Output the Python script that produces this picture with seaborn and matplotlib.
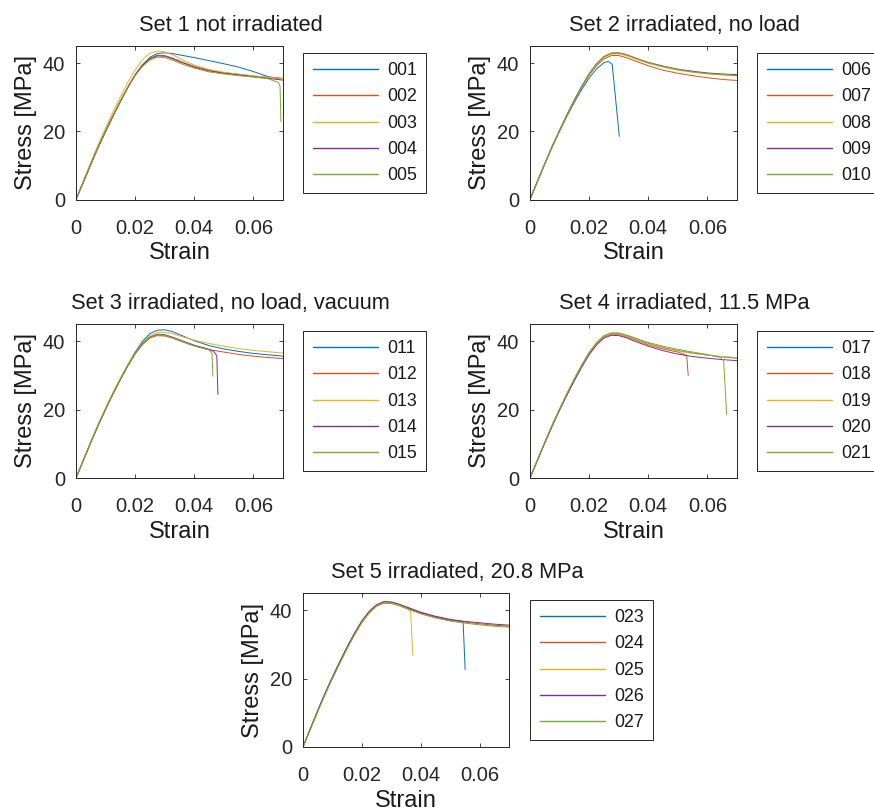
import matplotlib
matplotlib.use("Agg")
import matplotlib.pyplot as plt
from matplotlib.lines import Line2D
import pandas as pd
import seaborn as sns

# ---------------- data ----------------
strain_grid = [0, .0025, .005, .0075, .01, .0125, .015, .0175, .02, .0225, .025, .0275,
               .03, .0325, .035, .0375, .04, .045, .05, .055, .06, .065, .07]

titles = ["Set 1 not irradiated", "Set 2 irradiated, no load",
          "Set 3 irradiated, no load, vacuum", "Set 4 irradiated, 11.5 MPa",
          "Set 5 irradiated, 20.8 MPa"]
specimens = [["001", "002", "003", "004", "005"],
             ["006", "007", "008", "009", "010"],
             ["011", "012", "013", "014", "015"],
             ["017", "018", "019", "020", "021"],
             ["023", "024", "025", "026", "027"]]

# stress [MPa] on strain_grid (truncated where the specimen broke)
stress = {
    "001": [0, 5.0, 10.2, 15.2, 19.8, 24.3, 28.6, 32.7, 36.5, 39.5, 41.7, 42.8, 43.0, 42.8, 42.4, 42.0, 41.6, 40.7, 39.8, 38.8, 37.5, 36.0, 35.4],
    "002": [0, 5.2, 10.4, 15.4, 20.1, 24.6, 28.9, 32.9, 36.6, 39.5, 41.4, 42.3, 42.2, 41.5, 40.6, 39.8, 39.0, 37.9, 37.2, 36.7, 36.2, 35.8, 35.5],
    "003": [0, 5.5, 10.9, 16.1, 21.0, 25.7, 30.1, 34.3, 38.0, 41.0, 42.9, 43.5, 43.3, 42.5, 41.4, 40.3, 39.4, 38.1, 37.3, 36.7, 36.2, 35.8, 35.5],
    "004": [0, 5.2, 10.4, 15.4, 20.1, 24.6, 28.9, 32.9, 36.5, 39.3, 41.2, 42.1, 42.0, 41.3, 40.4, 39.6, 38.8, 37.7, 37.0, 36.5, 36.0, 35.5, 35.0],
    "005": [0, 5.2, 10.4, 15.4, 20.1, 24.6, 28.9, 32.8, 36.3, 39.0, 40.9, 41.7, 41.6, 40.9, 40.0, 39.2, 38.5, 37.4, 36.8, 36.3, 35.9, 35.4],
    "006": [0, 5.2, 10.4, 15.4, 20.0, 24.4, 28.5, 32.3, 35.6, 38.3, 40.1],
    "007": [0, 5.3, 10.5, 15.5, 20.2, 24.7, 29.0, 32.9, 36.4, 39.2, 41.2, 42.2, 42.2, 41.6, 40.8, 40.0, 39.2, 37.9, 37.0, 36.3, 35.7, 35.2, 34.9],
    "008": [0, 5.3, 10.5, 15.5, 20.2, 24.7, 29.0, 33.0, 36.6, 39.5, 41.6, 42.6, 42.7, 42.2, 41.4, 40.6, 39.9, 38.8, 37.9, 37.3, 36.8, 36.5, 36.2],
    "009": [0, 5.3, 10.5, 15.6, 20.3, 24.9, 29.2, 33.2, 36.9, 39.8, 41.9, 42.9, 43.0, 42.5, 41.7, 40.9, 40.2, 39.1, 38.2, 37.6, 37.1, 36.8, 36.6],
    "010": [0, 5.3, 10.5, 15.6, 20.3, 24.9, 29.2, 33.2, 36.9, 39.8, 41.9, 42.9, 43.0, 42.5, 41.7, 40.9, 40.1, 39.0, 38.1, 37.4, 36.9, 36.6, 36.3],
    "011": [0, 5.2, 10.4, 15.4, 20.1, 24.6, 28.9, 33.0, 36.8, 40.0, 42.2, 43.2, 43.3, 42.8, 41.9, 41.0, 40.1, 38.7, 37.7, 37.0, 36.4, 36.0, 35.6],
    "012": [0, 5.2, 10.4, 15.4, 20.1, 24.6, 28.8, 32.7, 36.2, 39.0, 40.9, 41.6, 41.5, 40.9, 40.1, 39.3, 38.6, 37.5, 36.8, 36.1, 35.6, 35.2, 34.9],
    "013": [0, 5.4, 10.7, 15.8, 20.5, 25.0, 29.2, 33.1, 36.6, 39.5, 41.6, 42.5, 42.6, 42.2, 41.5, 40.9, 40.3, 39.3, 38.5, 37.8, 37.3, 36.9, 36.5],
    "014": [0, 5.2, 10.4, 15.4, 20.1, 24.6, 28.8, 32.8, 36.4, 39.3, 41.2, 42.0, 41.9, 41.2, 40.4, 39.6, 38.8, 37.6],
    "015": [0, 5.2, 10.4, 15.4, 20.1, 24.6, 28.8, 32.8, 36.4, 39.3, 41.1, 41.8, 41.7, 41.0, 40.2, 39.4, 38.6],
    "017": [0, 5.2, 10.4, 15.4, 20.1, 24.6, 28.9, 32.9, 36.5, 39.4, 41.4, 42.3, 42.2, 41.6, 40.8, 40.0, 39.3, 38.1, 37.2, 36.5, 35.9, 35.4, 35.0],
    "018": [0, 5.2, 10.4, 15.4, 20.1, 24.6, 28.9, 32.9, 36.5, 39.3, 41.2, 42.0, 41.9, 41.3, 40.5, 39.7, 38.9, 37.7, 36.8],
    "019": [0, 5.2, 10.4, 15.4, 20.1, 24.6, 28.9, 32.9, 36.5, 39.4, 41.4, 42.2, 42.1, 41.5, 40.7, 39.9, 39.2, 38.0, 37.1, 36.4, 35.9, 35.5, 35.2],
    "020": [0, 5.1, 10.2, 15.1, 19.8, 24.2, 28.4, 32.4, 36.0, 38.9, 40.9, 41.7, 41.6, 41.0, 40.1, 39.3, 38.5, 37.2, 36.2, 35.5, 35.0, 34.6, 34.3],
    "021": [0, 5.2, 10.4, 15.4, 20.1, 24.7, 29.0, 33.0, 36.7, 39.6, 41.6, 42.4, 42.4, 41.8, 41.1, 40.3, 39.6, 38.5, 37.6, 36.8, 36.1],
    "023": [0, 5.3, 10.5, 15.5, 20.2, 24.7, 29.0, 33.0, 36.6, 39.4, 41.4, 42.3, 42.2, 41.6, 40.8, 40.0, 39.2, 38.0, 37.1],
    "024": [0, 5.3, 10.5, 15.5, 20.2, 24.7, 29.0, 33.0, 36.6, 39.4, 41.4, 42.3, 42.2, 41.6, 40.8, 40.0, 39.2, 38.0, 37.1, 36.5, 36.0, 35.6, 35.3],
    "025": [0, 5.3, 10.5, 15.5, 20.2, 24.7, 29.0, 33.0, 36.6, 39.4, 41.4, 42.2, 42.1, 41.5, 40.6],
    "026": [0, 5.4, 10.7, 15.8, 20.5, 25.0, 29.3, 33.3, 36.9, 39.7, 41.6, 42.5, 42.4, 41.8, 41.0, 40.2, 39.4, 38.2, 37.3, 36.7, 36.3, 35.9, 35.6],
    "027": [0, 5.2, 10.3, 15.3, 20.0, 24.4, 28.7, 32.7, 36.3, 39.1, 41.1, 42.0, 41.9, 41.3, 40.5, 39.7, 38.9, 37.7, 36.8, 36.2, 35.7, 35.3, 35.0],
}
# final points up to fracture (strain, stress)
tail_strain = {"005": [0.0685, 0.069, 0.0693], "006": [0.0265, 0.0278, 0.0302],
               "014": [0.0465, 0.0476, 0.048], "015": [0.045, 0.046, 0.0463],
               "018": [0.053, 0.0535], "021": [0.0645, 0.0655, 0.0665],
               "023": [0.0544, 0.0551], "025": [0.0366, 0.0373]}
tail_stress = {"005": [34.3, 33.2, 22.8], "006": [40.5, 39.6, 18.5],
               "014": [37.0, 35.8, 24.4], "015": [37.4, 36.4, 29.7],
               "018": [35.8, 30.0], "021": [35.2, 34.2, 18.5],
               "023": [36.6, 22.6], "025": [39.6, 26.7]}

xticks = [0, 0.02, 0.04, 0.06]
xtick_labels = ["0", "0.02", "0.04", "0.06"]
yticks = [0, 20, 40]
ytick_labels = ["0", "20", "40"]

colors = ["#0072BD", "#D95319", "#EDB120", "#7E2F8E", "#77AC30"]

# ---------------- style ----------------
sns.set_style("ticks")
dark = "#262626"
plt.rcParams.update({
    "font.family": ["Liberation Sans", "DejaVu Sans"],
    "xtick.direction": "in", "ytick.direction": "in",
    "xtick.top": True, "ytick.right": True,
    "xtick.major.size": 3, "ytick.major.size": 3,
    "xtick.major.width": 0.6, "ytick.major.width": 0.6,
    "xtick.color": dark, "ytick.color": dark,
    "axes.edgecolor": dark, "axes.linewidth": 0.7,
    "text.color": "#1a1a1a", "axes.labelcolor": "#1a1a1a",
})

W, H = 874, 810
fig = plt.figure(figsize=(W / 100, H / 100), dpi=100)

# pixel boxes: (left, top, right, bottom) of axes, and legend top-left
axes_px = [(76, 46, 283, 199.5), (530, 46, 737, 199.5),
           (76, 324, 283, 478), (530, 324, 737, 478),
           (303, 593, 509, 747)]
legend_px = [(303.3, 53), (757.3, 53), (303.3, 331), (757.3, 331), (530.3, 600)]

for k in range(5):
    l, t, r, b = axes_px[k]
    ax = fig.add_axes([l / W, 1 - b / H, (r - l) / W, (b - t) / H])
    rows = []
    for name in specimens[k]:
        xs = strain_grid[:len(stress[name])] + tail_strain.get(name, [])
        ys = stress[name] + tail_stress.get(name, [])
        rows += [(name, x, y) for x, y in zip(xs, ys)]
    df = pd.DataFrame(rows, columns=["specimen", "strain", "stress"])
    sns.lineplot(data=df, x="strain", y="stress", hue="specimen",
                 hue_order=specimens[k], palette=colors, sort=False,
                 estimator=None, linewidth=0.7, legend=False, ax=ax)
    ax.set_xlim(0, 0.07)
    ax.set_ylim(0, 45)
    ax.set_xticks(xticks)
    ax.set_xticklabels(xtick_labels)
    ax.set_yticks(yticks)
    ax.set_yticklabels(ytick_labels)
    ax.tick_params(labelsize=14.5)
    ax.tick_params(axis="x", pad=14)
    ax.tick_params(axis="y", pad=8)
    ax.set_xlabel("Strain", fontsize=17, labelpad=3)
    ax.set_ylabel("Stress [MPa]", fontsize=17, labelpad=4)
    ax.set_title(titles[k], fontsize=15.7, pad=11, x=0.5 + 51 / (r - l))
    handles = [Line2D([], [], color=c, linewidth=1.0) for c in colors]
    lx, ly = legend_px[k]
    leg = ax.legend(handles, specimens[k], loc="upper left",
                    bbox_to_anchor=(lx / W, 1 - ly / H), bbox_transform=fig.transFigure,
                    borderaxespad=0, fontsize=12.8, frameon=True, fancybox=False,
                    framealpha=1, edgecolor=dark, handlelength=3.7,
                    handletextpad=0.5, borderpad=0.52, labelspacing=0.52)
    leg.get_frame().set_linewidth(0.7)

fig.savefig("out.png", dpi=100)
